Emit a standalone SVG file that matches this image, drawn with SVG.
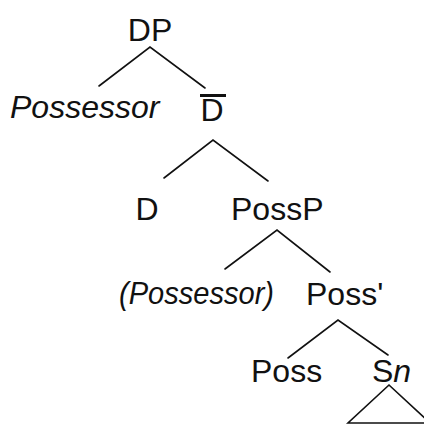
<svg xmlns="http://www.w3.org/2000/svg" width="424" height="433" viewBox="0 0 424 433">
  <style>
    .lbl { font-family: "Liberation Sans", Arial, sans-serif; font-size: 32px; fill: #111; }
    .it { font-style: italic; }
    .edge { stroke: #111; stroke-width: 1.6; fill: none; stroke-linecap: round; stroke-linejoin: miter; }
  </style>
  <rect width="424" height="433" fill="#fff"/>

  <!-- branches -->
  <g id="connectors">
    <polyline class="edge" points="99,86 150,47 205,88"/>
    <polyline class="edge" points="164,178 213,140 268,181"/>
    <polyline class="edge" points="225,269 277,230 330,272"/>
    <polyline class="edge" points="288,358 338,320 388,355"/>
    <!-- triangle under Sn -->
    <polygon class="edge" points="389,385 348,423 430,423"/>
  </g>

  <g id="DP"><text class="lbl" x="150" y="41" text-anchor="middle">DP</text></g>
  <g id="Possessor"><text class="lbl it" x="10" y="118">Possessor</text></g>
  <g id="Dbar">
    <rect x="200" y="94" width="26" height="3" fill="#111"/>
    <text class="lbl" x="212" y="121" text-anchor="middle">D</text>
  </g>
  <g id="D"><text class="lbl" x="147" y="220" text-anchor="middle">D</text></g>
  <g id="PossP"><text class="lbl" x="231" y="220">PossP</text></g>
  <g id="PossessorOpt"><text class="lbl it" x="119" y="304" textLength="155" lengthAdjust="spacingAndGlyphs">(Possessor)</text></g>
  <g id="PossBar"><text class="lbl" x="306" y="305">Poss'</text></g>
  <g id="Poss"><text class="lbl" x="251" y="382">Poss</text></g>
  <g id="Sn"><text class="lbl" x="372" y="382">S<tspan class="it">n</tspan></text></g>
</svg>
